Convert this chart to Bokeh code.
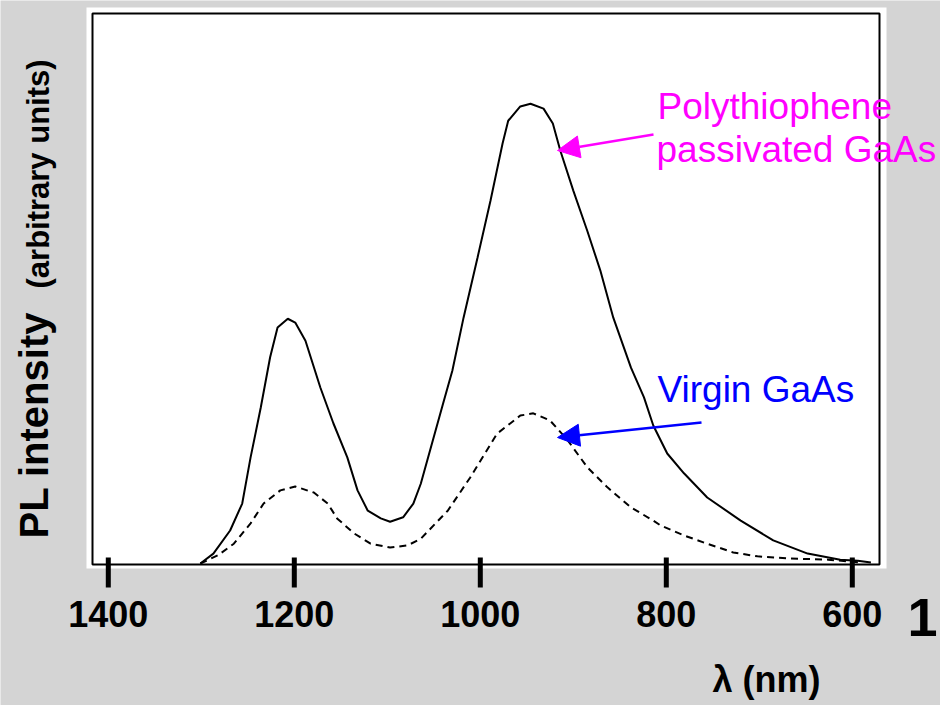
from bokeh.plotting import figure
from bokeh.models import Range1d, Label, Arrow, NormalHead
from bokeh.core.properties import value
from bokeh.embed import file_html
from bokeh.resources import INLINE

# ---- data ----
tick_values = [1400, 1200, 1000, 800, 600]
tick_labels = ["1400", "1200", "1000", "800", "600"]

poly_wl = [1301, 1287, 1269, 1256, 1247, 1236, 1226, 1218, 1207, 1199, 1188, 1172, 1158, 1143, 1132,
           1121, 1107, 1097, 1083, 1072, 1064, 1040, 1030, 1018, 1003, 989, 976, 970, 957, 946,
           932, 922, 914, 900, 885, 871, 857, 838, 824, 814, 799, 781, 756, 720, 685, 648, 613, 594, 580]
poly_int = [0, 1.8, 6.0, 10.9, 19.3, 28.4, 37.5, 42.9, 44.5, 43.8, 40.5, 32.0, 25.5, 19.3, 13.3,
            9.6, 8.2, 7.6, 8.4, 10.9, 14.5, 29.1, 35.1, 44.7, 55.6, 66.0, 76.4, 80.5, 83.1, 83.6,
            82.7, 80.0, 75.1, 67.8, 60.5, 53.3, 44.7, 35.6, 30.2, 25.1, 20.0, 16.4, 12.0, 7.8, 4.2, 1.8, 0.7, 0.5, 0.2]

virgin_wl = [1301, 1282, 1265, 1247, 1233, 1215, 1199, 1179, 1164, 1154, 1136, 1118, 1097, 1078, 1064,
             1035, 1011, 982, 957, 943, 925, 906, 885, 863, 838, 814, 806, 781, 756, 728, 702, 666, 626, 591]
virgin_int = [0, 1.5, 3.6, 7.3, 10.9, 13.3, 14.0, 12.9, 10.9, 8.2, 5.5, 3.6, 2.9, 3.3, 4.5,
              9.6, 15.6, 23.6, 26.9, 27.3, 26.0, 22.4, 17.5, 13.8, 10.2, 7.8, 6.9, 5.1, 3.6, 2.0, 1.3, 0.9, 0.7, 0.2]

FONT = "Liberation Sans"
K = 0.42  # empirical shift of the rendered baseline (in em)

# ---- layout helpers (pixel -> data) ----
PX_PER_NM = 0.93
def X(px):
    return 1000 - (px - 479.8) / PX_PER_NM
def Y(py):
    return (563 - py) / 5.5

W, H = 940, 705

p = figure(width=W, height=H, output_backend="svg", toolbar_location=None,
           x_range=Range1d(X(0), X(W)), y_range=Range1d(Y(H), Y(0)),
           min_border=0)
p.background_fill_color = "#d4d4d4"
p.border_fill_color = "#d4d4d4"
p.outline_line_color = None
p.grid.visible = False
p.axis.visible = False

# white scanned-figure area and its frame box
p.quad(left=X(86), right=X(886), bottom=Y(568), top=Y(7), fill_color="white", line_color=None)
p.quad(left=X(92), right=X(879), bottom=Y(564), top=Y(13), fill_color=None,
       line_color="black", line_width=2)

# tick marks and tick labels on the wavelength scale
p.segment(x0=tick_values, y0=[Y(557)] * len(tick_values), x1=tick_values, y1=[Y(587)] * len(tick_values),
          line_color="black", line_width=5)
p.text(x=tick_values, y=[Y(629 - K * 36)] * len(tick_values), text=tick_labels,
       text_font=value(FONT), text_font_style="bold", text_font_size="36px",
       text_align="center", text_baseline="alphabetic", text_color="black")

p.line(poly_wl, poly_int, line_color="black", line_width=2)
p.line(virgin_wl, virgin_int, line_color="black", line_width=2, line_dash="7 5")

MAG = "#ff00ff"
BLUE = "#0000ff"

p.add_layout(Arrow(end=NormalHead(size=22, fill_color=MAG, line_color=MAG),
                   x_start=X(653), y_start=Y(134), x_end=X(557), y_end=Y(150),
                   line_color=MAG, line_width=2.5))
p.add_layout(Arrow(end=NormalHead(size=22, fill_color=BLUE, line_color=BLUE),
                   x_start=X(701), y_start=Y(422), x_end=X(557), y_end=Y(437),
                   line_color=BLUE, line_width=2.5))

def lab(px, py, text, size, color="black", style="normal", vertical=False):
    if vertical:
        px = px - K * size
        angle = 1.5708
    else:
        py = py - K * size
        angle = 0.0
    p.add_layout(Label(x=X(px), y=Y(py), text=text, text_font=FONT, text_font_size=f"{size}px",
                       text_font_style=style, text_color=color, angle=angle,
                       text_align="left", text_baseline="alphabetic"))

lab(657, 122, "Polythiophene", 37, MAG)
lab(656, 165, "passivated GaAs", 37, MAG)
lab(657, 405, "Virgin GaAs", 37, BLUE)
lab(712, 694, "λ (nm)", 36, style="bold")
lab(50, 538, "PL intensity", 40, style="bold", vertical=True)
lab(51, 288, "(arbitrary units)", 31, style="bold", vertical=True)
lab(907, 640, "1", 54, style="bold")

open("out.html", "w").write(file_html(p, INLINE))
